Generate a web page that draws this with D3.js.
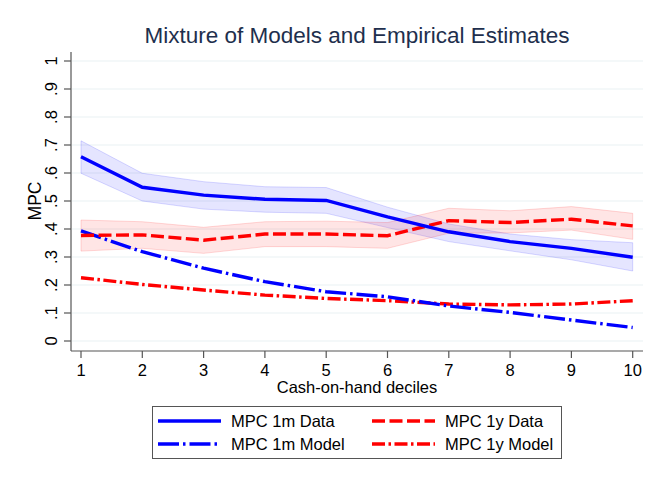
<!DOCTYPE html>
<html>
<head>
<meta charset="utf-8">
<script src="https://cdn.jsdelivr.net/npm/d3@7"></script>
<style>
  body { margin: 0; background: #fff; }
  text { font-family: "Liberation Sans", Arial, sans-serif; }
</style>
</head>
<body>
<div id="chart"></div>
<script>
// deciles on the x axis
var deciles = [1, 2, 3, 4, 5, 6, 7, 8, 9, 10];

// MPC 1m Data with its confidence band
var mpc1mData = [0.658, 0.549, 0.521, 0.506, 0.502, 0.443, 0.390, 0.355, 0.331, 0.299];
var mpc1mLo   = [0.599, 0.500, 0.471, 0.460, 0.456, 0.405, 0.355, 0.322, 0.290, 0.250];
var mpc1mHi   = [0.715, 0.599, 0.569, 0.551, 0.548, 0.478, 0.418, 0.382, 0.362, 0.351];

// MPC 1y Data with its confidence band
var mpc1yData = [0.377, 0.379, 0.360, 0.382, 0.382, 0.376, 0.430, 0.423, 0.435, 0.411];
var mpc1yLo   = [0.321, 0.331, 0.313, 0.337, 0.337, 0.331, 0.385, 0.386, 0.396, 0.363];
var mpc1yHi   = [0.432, 0.426, 0.406, 0.426, 0.428, 0.423, 0.474, 0.465, 0.480, 0.456];

// model lines
var mpc1mModel = [0.393, 0.319, 0.260, 0.212, 0.176, 0.158, 0.125, 0.102, 0.075, 0.048];
var mpc1yModel = [0.226, 0.202, 0.182, 0.164, 0.152, 0.144, 0.132, 0.129, 0.132, 0.144];

var yTicks = [0, 0.1, 0.2, 0.3, 0.4, 0.5, 0.6, 0.7, 0.8, 0.9, 1];
var yTickLabels = ["0", ".1", ".2", ".3", ".4", ".5", ".6", ".7", ".8", ".9", "1"];

var svgWidth = 657, svgHeight = 477;

var svg = d3.select("#chart").append("svg")
  .attr("width", svgWidth)
  .attr("height", svgHeight);

// plot frame
var plot = { left: 71, right: 643, top: 52, bottom: 351 };

var xScale = d3.scaleLinear().domain([1, 10]).range([81, 632.7]);
var yScale = d3.scaleLinear().domain([0, 1]).range([341, 61]);

// gridlines
svg.append("g").selectAll("line")
  .data(yTicks)
  .enter().append("line")
  .attr("x1", plot.left + 1).attr("x2", plot.right)
  .attr("y1", d => yScale(d)).attr("y2", d => yScale(d))
  .attr("stroke", "#eaf2f3").attr("stroke-width", 1.2);

// bands
function band(lo, hi) {
  return d3.area()
    .x((d, i) => xScale(deciles[i]))
    .y0((d, i) => yScale(lo[i]))
    .y1((d, i) => yScale(hi[i]))(deciles);
}
svg.append("path").attr("d", band(mpc1mLo, mpc1mHi))
  .attr("fill", "rgba(0,0,255,0.1)")
  .attr("stroke", "rgba(0,0,255,0.15)").attr("stroke-width", 1);
svg.append("path").attr("d", band(mpc1yLo, mpc1yHi))
  .attr("fill", "rgba(255,0,0,0.1)")
  .attr("stroke", "rgba(255,0,0,0.15)").attr("stroke-width", 1);

// series lines
var series = [
  { name: "MPC 1m Data",  values: mpc1mData,  color: "#0000ff", dash: null },
  { name: "MPC 1y Data",  values: mpc1yData,  color: "#ff0000", dash: "13,4.5" },
  { name: "MPC 1m Model", values: mpc1mModel, color: "#0000ff", dash: "21,4,2.5,4" },
  { name: "MPC 1y Model", values: mpc1yModel, color: "#ff0000", dash: "13,3.5,2.5,3.5" }
];

var line = d3.line()
  .x((d, i) => xScale(deciles[i]))
  .y(d => yScale(d));

// draw order: models first, then data
[series[3], series[2], series[1], series[0]].forEach(function(s) {
  svg.append("path")
    .attr("d", line(s.values))
    .attr("fill", "none")
    .attr("stroke", s.color)
    .attr("stroke-width", 3.4)
    .attr("stroke-dasharray", s.dash);
});

// axes
var axisColor = "#555";
svg.append("line")
  .attr("x1", plot.left).attr("x2", plot.left)
  .attr("y1", plot.top).attr("y2", plot.bottom)
  .attr("stroke", axisColor).attr("stroke-width", 1.2);
svg.append("line")
  .attr("x1", plot.left).attr("x2", plot.right)
  .attr("y1", plot.bottom).attr("y2", plot.bottom)
  .attr("stroke", axisColor).attr("stroke-width", 1.2);

// y ticks and labels
var yg = svg.append("g").selectAll("g")
  .data(yTicks)
  .enter().append("g");
yg.append("line")
  .attr("x1", plot.left - 7).attr("x2", plot.left)
  .attr("y1", d => yScale(d)).attr("y2", d => yScale(d))
  .attr("stroke", axisColor).attr("stroke-width", 1.2);
yg.append("text")
  .attr("transform", d => `translate(57, ${yScale(d)}) rotate(-90)`)
  .attr("text-anchor", "middle")
  .attr("font-size", 16.5)
  .attr("fill", "#000")
  .text((d, i) => yTickLabels[i]);

// x ticks and labels
var xg = svg.append("g").selectAll("g")
  .data(deciles)
  .enter().append("g");
xg.append("line")
  .attr("x1", d => xScale(d)).attr("x2", d => xScale(d))
  .attr("y1", plot.bottom).attr("y2", plot.bottom + 7)
  .attr("stroke", axisColor).attr("stroke-width", 1.2);
xg.append("text")
  .attr("x", d => xScale(d))
  .attr("y", 376)
  .attr("text-anchor", "middle")
  .attr("font-size", 16.5)
  .attr("fill", "#000")
  .text(d => d);

// axis titles
svg.append("text")
  .attr("x", 357).attr("y", 392.5)
  .attr("text-anchor", "middle")
  .attr("font-size", 16.5)
  .text("Cash-on-hand deciles");

svg.append("text")
  .attr("transform", "translate(41, 201) rotate(-90)")
  .attr("text-anchor", "middle")
  .attr("font-size", 17.5)
  .text("MPC");

// title
svg.append("text")
  .attr("x", 357).attr("y", 43)
  .attr("text-anchor", "middle")
  .attr("font-size", 22.5)
  .attr("fill", "#1e2f4d")
  .text("Mixture of Models and Empirical Estimates");

// legend
var legend = svg.append("g");
legend.append("rect")
  .attr("x", 152.5).attr("y", 406.5)
  .attr("width", 409).attr("height", 52)
  .attr("fill", "#fff")
  .attr("stroke", "#555").attr("stroke-width", 1);

var legendPos = [
  { x: 158, y: 421 },
  { x: 372, y: 421 },
  { x: 158, y: 444 },
  { x: 372, y: 444 }
];
series.forEach(function(s, i) {
  var p = legendPos[i];
  legend.append("line")
    .attr("x1", p.x).attr("x2", p.x + 63)
    .attr("y1", p.y).attr("y2", p.y)
    .attr("stroke", s.color)
    .attr("stroke-width", 3.4)
    .attr("stroke-dasharray", s.dash);
  legend.append("text")
    .attr("x", p.x + 73)
    .attr("y", p.y + 6)
    .attr("font-size", 16.5)
    .attr("fill", "#000")
    .text(s.name);
});
</script>
</body>
</html>
